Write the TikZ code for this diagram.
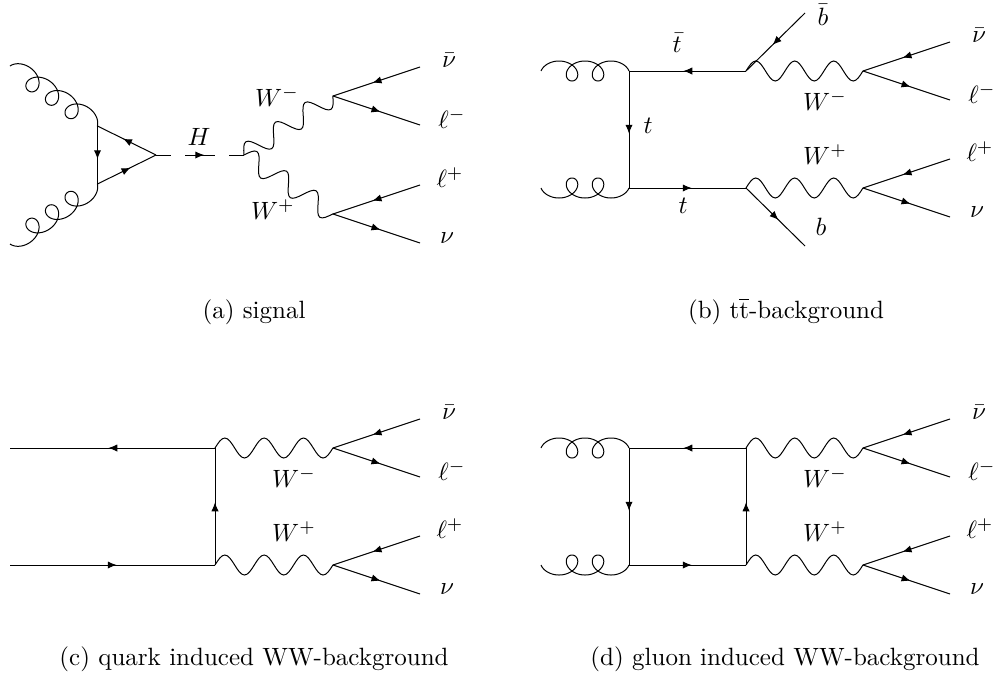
\documentclass[tikz,border=0pt]{standalone}
\usepackage{amsmath, amssymb}
\usetikzlibrary{arrows.meta, decorations.markings}
% one sine period per state, three periods on every W line
\pgfdeclaredecoration{wwave}{initial}{
    \state{initial}[width=\pgfdecoratedpathlength/3.002]{
        \pgfmathsetlengthmacro{\wq}{\pgfdecoratedpathlength/3.002/4}
        \pgfmathsetlengthmacro{\wa}{\pgfdecorationsegmentamplitude}
        \pgfpathcurveto{\pgfpoint{0.3261*\wq}{0.5123*\wa}}{\pgfpoint{0.6381*\wq}{\wa}}{\pgfpoint{\wq}{\wa}}
        \pgfpathcurveto{\pgfpoint{1.3619*\wq}{\wa}}{\pgfpoint{1.6739*\wq}{0.5123*\wa}}{\pgfpoint{2*\wq}{0pt}}
        \pgfpathcurveto{\pgfpoint{2.3261*\wq}{-0.5123*\wa}}{\pgfpoint{2.6381*\wq}{-\wa}}{\pgfpoint{3*\wq}{-\wa}}
        \pgfpathcurveto{\pgfpoint{3.3619*\wq}{-\wa}}{\pgfpoint{3.6739*\wq}{-0.5123*\wa}}{\pgfpoint{4*\wq}{0pt}}
    }
    \state{final}{\pgfpathlineto{\pgfpointdecoratedpathlast}}
}
% curl with arches on the left of the line and loops on the right
\pgfdeclaredecoration{gcurl}{initial}{
    \state{initial}[width=\pgfdecoratedpathlength-0.01pt, next state=final]{
        \pgfmathsetmacro{\gry}{\pgfdecorationsegmentamplitude}
        \pgfmathsetmacro{\grx}{abs(\gry)*\pgfdecorationsegmentaspect}
        \pgfmathtruncatemacro{\gn}{round((\pgfdecoratedpathlength-2*\grx)/\pgfdecorationsegmentlength-0.5)}
        \pgfmathsetmacro{\gc}{(\pgfdecoratedpathlength-2*\grx)/(pi*(2*\gn+1))}
        \pgfmathtruncatemacro{\gend}{\gn*360+90}
        \foreach \th in {-84,-78,...,\gend} {
            \pgfpathlineto{\pgfpoint{(\gc*rad(\th+90)+\grx*(1+sin(\th)))*1pt}{\gry*cos(\th)*1pt}}
        }
    }
    \state{final}{\pgfpathlineto{\pgfpointdecoratedpathlast}}
}
\tikzset{
    fermion/.style={postaction={decorate}, decoration={markings, mark=at position 0.5 with {\arrow[xshift=1.7pt]{Latex[length=3.6pt, width=2.9pt]}}}},
    wboson/.style={decorate, decoration={wwave, amplitude=4pt}},
    higgs/.style={dash pattern=on 12pt off 5.6pt, dash phase=6pt},
    gluon/.style={decorate, decoration={gcurl, aspect=1.15, segment length=10.9pt, amplitude=4pt}},
    gluonflip/.style={decorate, decoration={gcurl, aspect=1.15, segment length=10.9pt, amplitude=-4pt}},
    lab/.style={inner sep=0pt},
    capt/.style={inner sep=0pt}
}
\begin{document}
\begin{tikzpicture}[x=0.4pt, y=-0.4pt, line width=0.4pt]
    \useasboundingbox (0,0) rectangle (997,674);

    % (a) signal
    \coordinate (aGt) at (10,66);
    \coordinate (aGb) at (10,244);
    \coordinate (aTop) at (97.5,126);
    \coordinate (aBot) at (97.5,184);
    \coordinate (aApex) at (156,155);
    \coordinate (aWW) at (244,155);
    \coordinate (aVm) at (333,96);
    \coordinate (aVp) at (333,214);
    \draw[gluon] (aGt) -- (aTop);
    \draw[gluonflip] (aGb) -- (aBot);
    \draw[fermion] (aTop) -- (aBot);
    \draw[fermion] (aBot) -- (aApex);
    \draw[fermion] (aApex) -- (aTop);
    \draw[higgs, fermion] (aApex) -- (aWW);
    \draw[wboson] (aWW) -- (aVm);
    \draw[wboson] (aWW) -- (aVp);
    \node[lab] (aH) at (199,137) {$H$};
    \node[lab] (aWm) at (277,97) {$W^-$};
    \node[lab] (aWp) at (273,210) {$W^+$};
    \node[capt] (aCap) at (254,312) {(a) signal};

    % (b) tt-background
    \coordinate (bGt) at (541,71);
    \coordinate (bGb) at (541,188);
    \coordinate (bTL) at (629,71);
    \coordinate (bBL) at (629,188);
    \coordinate (bTR) at (746,71);
    \coordinate (bBR) at (746,188);
    \coordinate (bVm) at (863,71);
    \coordinate (bVp) at (863,188);
    \coordinate (bbt) at (805,13);
    \coordinate (bbb) at (805,246);
    \draw[gluon] (bGt) -- (bTL);
    \draw[gluonflip] (bGb) -- (bBL);
    \draw[fermion] (bTR) -- (bTL);
    \draw[fermion] (bTL) -- (bBL);
    \draw[fermion] (bBL) -- (bBR);
    \draw[fermion] (bbt) -- (bTR);
    \draw[fermion] (bBR) -- (bbb);
    \draw[wboson] (bTR) -- (bVm);
    \draw[wboson] (bBR) -- (bVp);
    \node[lab] (bTbar) at (677,43) {$\bar{t}$};
    \node[lab] (bTv) at (648,126) {$t$};
    \node[lab] (bTb) at (683,206) {$t$};
    \node[lab] (bBbar) at (823,15) {$\bar{b}$};
    \node[lab] (bB) at (821,227) {$b$};
    \node[lab] (bWm) at (825,101) {$W^-$};
    \node[lab] (bWp) at (825,155) {$W^+$};
    \node[capt] (bCap) at (786,311) {(b) $\mathrm{t\overline{t}}$-background};

    % (c) quark induced
    \coordinate (cQt) at (10,448);
    \coordinate (cQb) at (10,565);
    \coordinate (cT) at (215,448);
    \coordinate (cB) at (215,565);
    \coordinate (cVm) at (333,448);
    \coordinate (cVp) at (333,565);
    \draw[fermion] (cT) -- (cQt);
    \draw[fermion] (cQb) -- (cB);
    \draw[fermion] (cB) -- (cT);
    \draw[wboson] (cT) -- (cVm);
    \draw[wboson] (cB) -- (cVp);
    \node[lab] (cWm) at (294,478) {$W^-$};
    \node[lab] (cWp) at (294,532) {$W^+$};
    \node[capt] (cCap) at (254,659) {(c) quark induced WW-background};

    % (d) gluon induced
    \coordinate (dGt) at (541,448);
    \coordinate (dGb) at (541,565);
    \coordinate (dTL) at (629,448);
    \coordinate (dBL) at (629,565);
    \coordinate (dTR) at (746,448);
    \coordinate (dBR) at (746,565);
    \coordinate (dVm) at (863,448);
    \coordinate (dVp) at (863,565);
    \draw[gluon] (dGt) -- (dTL);
    \draw[gluonflip] (dGb) -- (dBL);
    \draw[fermion] (dTR) -- (dTL);
    \draw[fermion] (dTL) -- (dBL);
    \draw[fermion] (dBL) -- (dBR);
    \draw[fermion] (dBR) -- (dTR);
    \draw[wboson] (dTR) -- (dVm);
    \draw[wboson] (dBR) -- (dVp);
    \node[lab] (dWm) at (825,478) {$W^-$};
    \node[lab] (dWp) at (825,532) {$W^+$};
    \node[capt] (dCap) at (785,659) {(d) gluon induced WW-background};

    % lepton pairs on every W vertex
    \foreach \vname/\vx/\vy in {aVm/333/96, bVm/863/71, cVm/333/448, dVm/863/448} {
        \coordinate (\vname in) at (\vx+87,\vy-29);
        \coordinate (\vname out) at (\vx+87,\vy+29);
        \draw[fermion] (\vname in) -- (\vname);
        \draw[fermion] (\vname) -- (\vname out);
        \node[lab] (\vname nu) at (\vx+116,\vy-36) {$\bar{\nu}$};
        \node[lab] (\vname l) at (\vx+119,\vy+23) {$\ell^-$};
    }
    \foreach \vname/\vx/\vy in {aVp/333/214, bVp/863/188, cVp/333/565, dVp/863/565} {
        \coordinate (\vname in) at (\vx+87,\vy-29);
        \coordinate (\vname out) at (\vx+87,\vy+29);
        \draw[fermion] (\vname in) -- (\vname);
        \draw[fermion] (\vname) -- (\vname out);
        \node[lab] (\vname l) at (\vx+117,\vy-36) {$\ell^+$};
        \node[lab] (\vname nu) at (\vx+114,\vy+24) {$\nu$};
    }
\end{tikzpicture}
\end{document}
